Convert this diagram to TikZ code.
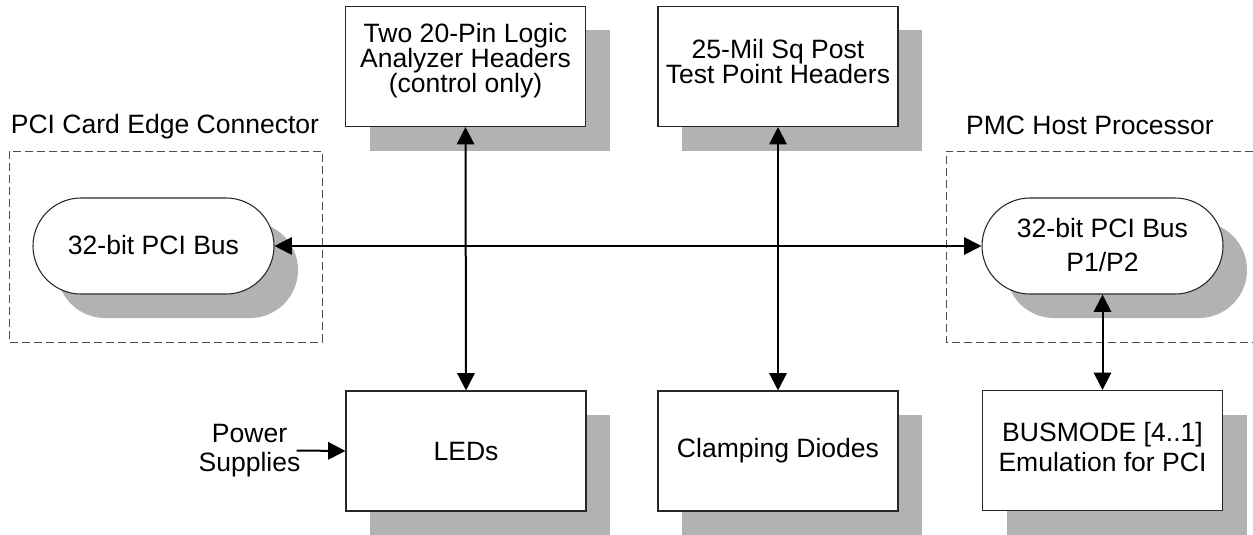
\documentclass[tikz,border=0pt]{standalone}
\usepackage{fontspec}
\setmainfont{Liberation Sans}
\usetikzlibrary{arrows.meta,shadows}
\begin{document}
\begin{tikzpicture}[x=0.75pt,y=-0.75pt,
  every node/.style={font=\fontsize{19.9pt}{19pt}\selectfont},
  shad/.style={drop shadow={shadow xshift=18pt,shadow yshift=-18pt,fill=black!30,opacity=1}},
  blockbox/.style={draw=black!85,line width=0.8pt,fill=white,minimum width=180pt,minimum height=90pt,align=center,inner sep=0pt,shad},
  pill/.style={draw=black!85,line width=0.8pt,fill=white,rounded corners=36pt,minimum width=180.75pt,minimum height=72pt,align=center,inner sep=0pt,shad},
  grp/.style={draw=black!70,line width=0.6pt,dash pattern=on 6pt off 3pt},
  conn/.style={line width=1.5pt,{Triangle[length=13pt,width=13pt]}-{Triangle[length=13pt,width=13pt]}},
  feed/.style={line width=1.5pt,-{Triangle[length=13pt,width=13pt]}},
  lbl/.style={inner sep=0pt,align=center}]
\useasboundingbox (0,0) rectangle (1253,535);
% groups
\draw[grp] (9,151) rectangle (322,342);
\draw[grp] (1253,151) -- (946,151) -- (946,342) -- (1253,342);
\node[lbl] (lblL) at (165,127) {PCI Card Edge Connector};
\node[lbl] (lblR) at (1090,125) {PMC Host Processor};
% blocks
\node[blockbox,font=\fontsize{19.9pt}{18.75pt}\selectfont,text depth=12.5pt] (A) at (465.5,66.5) {Two 20-Pin Logic\\Analyzer Headers\\(control only)};
\node[blockbox,font=\fontsize{19.9pt}{18.75pt}\selectfont,text depth=8.25pt] (B) at (778,66.5) {25-Mil Sq Post\\Test Point Headers};
\node[blockbox] (L) at (466,451) {LEDs};
\node[blockbox] (C) at (778,451) {Clamping Diodes};
\node[blockbox,font=\fontsize{19.9pt}{22pt}\selectfont,text depth=5.25pt] (BM) at (1102.5,450.5) {BUSMODE [4..1]\\Emulation for PCI};
\node[pill,text depth=2.25pt] (P1) at (153.5,246) {32-bit PCI Bus};
\node[pill,font=\fontsize{19.9pt}{25.5pt}\selectfont,text depth=2.25pt] (P2) at (1102.5,246) {32-bit PCI Bus\\P1/P2};
\node[lbl,font=\fontsize{19.9pt}{22pt}\selectfont] (PS) at (249.5,450.5) {Power\\Supplies};
% connectors
\draw[conn] (P1.east) -- (P2.west);
\draw[conn] (A.south) -- (L.north);
\draw[conn] (B.south) -- (C.north);
\draw[conn] (P2.south) -- (BM.north);
\draw[feed] (PS.east) ++(-4,0) -- (L.west);
\end{tikzpicture}
\end{document}
